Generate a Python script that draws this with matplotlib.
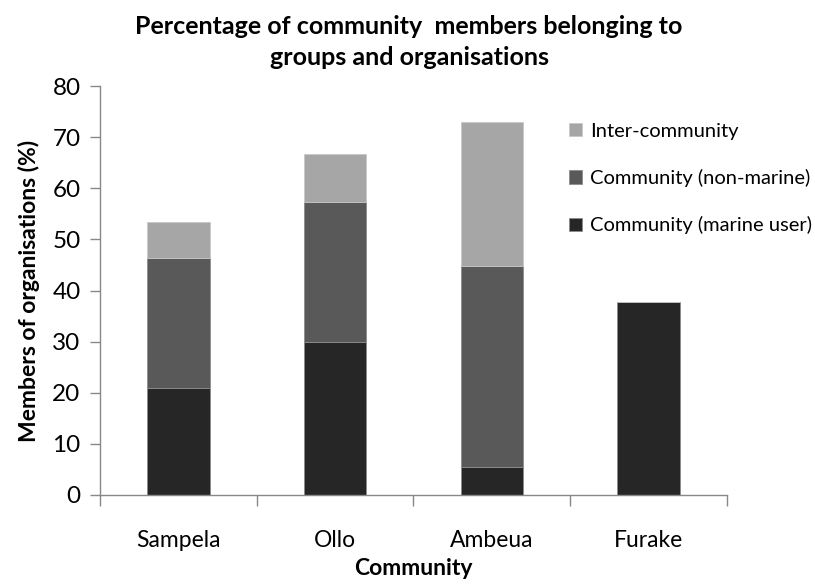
import matplotlib
matplotlib.use('Agg')
import matplotlib.pyplot as plt
import numpy as np

plt.rcParams['font.family'] = ['Lato', 'DejaVu Sans']

# dados
comunidades = ['Sampela', 'Ollo', 'Ambeua', 'Furake']
marine_user = [21.0, 30.0, 5.5, 37.8]
non_marine = [25.4, 27.4, 39.3, 0.0]
inter_community = [7.0, 9.4, 28.2, 0.0]

cor_marine = '#262626'
cor_non = '#595959'
cor_inter = '#a6a6a6'

fig = plt.figure(figsize=(8.15, 5.86), dpi=100)
ax = fig.add_axes([0.1227, 0.1553, 0.7693, 0.6977])

x = np.arange(len(comunidades))
largura = 0.4
b1 = np.array(marine_user)
b2 = b1 + np.array(non_marine)

ax.bar(x, marine_user, largura, color=cor_marine, edgecolor='#8c8c8c', linewidth=0.6,
       label='Community (marine user)')
ax.bar(x, non_marine, largura, bottom=b1, color=cor_non, edgecolor='#8c8c8c', linewidth=0.6,
       label='Community (non-marine)')
ax.bar(x, inter_community, largura, bottom=b2, color=cor_inter, edgecolor='#c8c8c8', linewidth=0.6,
       label='Inter-community')

ax.set_xlim(-0.5, len(comunidades) - 0.5)
ax.set_ylim(0, 80)
ax.set_yticks(range(0, 81, 10))
ax.set_xticks(x)
ax.set_xticklabels(comunidades, fontsize=16.5)
ax.set_xticks(np.arange(-0.5, len(comunidades), 1), minor=True)
ax.tick_params(axis='x', which='major', length=0, pad=25)
ax.tick_params(axis='x', which='minor', length=8, color='#888888', width=1)
ax.tick_params(axis='y', length=7, color='#888888', width=1, labelsize=17.5, pad=7)

for lado in ['top', 'right']:
    ax.spines[lado].set_visible(False)
for lado in ['left', 'bottom']:
    ax.spines[lado].set_color('#888888')
    ax.spines[lado].set_linewidth(1)

ax.set_xlabel('Community', fontsize=16.5, fontweight='bold', labelpad=5)
ax.set_ylabel('Members of organisations (%)', fontsize=16.5, fontweight='bold', labelpad=9)
fig.suptitle('Percentage of community  members belonging to\ngroups and organisations',
             fontsize=18, fontweight='bold', x=0.502, y=0.975, linespacing=1.45)

h, l = ax.get_legend_handles_labels()
ax.legend(h[::-1], l[::-1], loc='upper left', bbox_to_anchor=(0.735, 0.93), frameon=False,
          fontsize=14.5, handlelength=0.65, handleheight=0.65, handletextpad=0.4,
          labelspacing=1.45, borderaxespad=0)

plt.savefig('out.png', dpi=100)
